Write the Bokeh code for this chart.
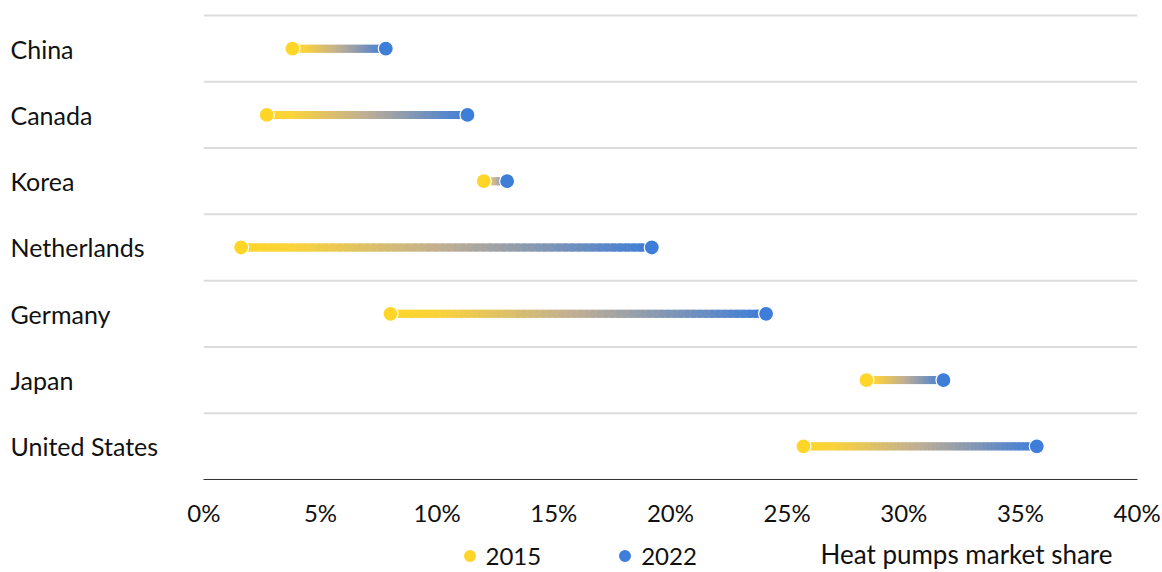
from bokeh.plotting import figure
from bokeh.models import Range1d, FixedTicker, Legend, LegendItem, Label
from bokeh.core.properties import value
from bokeh.embed import file_html
from bokeh.resources import INLINE

# ---- data ----
countries = ["China", "Canada", "Korea", "Netherlands", "Germany", "Japan", "United States"]
share_2015 = [3.8, 2.7, 12.0, 1.6, 8.0, 28.4, 25.7]
share_2022 = [7.8, 11.3, 13.0, 19.2, 24.1, 31.7, 35.7]
x_ticks = [0, 5, 10, 15, 20, 25, 30, 35, 40]
x_tick_labels = ["0%", "5%", "10%", "15%", "20%", "25%", "30%", "35%", "40%"]
series_names = ["2015", "2022"]
axis_title = "Heat pumps market share"

# ---- style ----
FONT = "Lato"
YELLOW = (255, 213, 40)
BLUE = (62, 125, 216)
STOPS = [(0.0, YELLOW), (0.12, (252, 211, 58)), (0.5, (190, 174, 150)), (1.0, BLUE)]


def hexc(c):
    return "#%02x%02x%02x" % tuple(int(round(v)) for v in c)


def grad(t):
    for (t0, c0), (t1, c1) in zip(STOPS[:-1], STOPS[1:]):
        if t <= t1:
            f = (t - t0) / (t1 - t0)
            return hexc([a + (b - a) * f for a, b in zip(c0, c1)])
    return hexc(BLUE)


n = len(countries)
ypos = [n - i - 0.5 for i in range(n)]
x_min, x_max = x_ticks[0], x_ticks[-1]

p = figure(width=1162, height=572, output_backend="svg", toolbar_location=None,
           x_range=Range1d(-8.713, 41.088), y_range=Range1d(-1.403, n + 0.03),
           min_border_left=0, min_border_right=0, min_border_top=13, min_border_bottom=0,
           y_axis_location=None)
p.outline_line_color = None
p.background_fill_color = "white"
p.border_fill_color = "white"
p.xgrid.visible = False
for g in p.ygrid:
    g.visible = False

# row separators (category band edges), spanning the value axis only
bands = [k + 1 for k in range(n)]
p.segment(x0=[x_min] * n, y0=bands, x1=[x_max] * n, y1=bands,
          line_color="#dcdcdc", line_width=2)

# gradient connectors (short overlapping pieces, yellow -> blue)
N = 60
sx0, sx1, sy, sc = [], [], [], []
for a, b, y in zip(share_2015, share_2022, ypos):
    for k in range(N):
        sx0.append(a + (b - a) * k / N)
        sx1.append(a + (b - a) * min(k + 1.8, N) / N)
        sy.append(y)
        sc.append(grad((k + 0.5) / N))
p.segment(x0=sx0, y0=sy, x1=sx1, y1=sy, line_color=sc, line_width=8, line_cap="butt")

r15 = p.scatter(share_2015, ypos, size=15, fill_color=hexc(YELLOW),
                line_color="white", line_width=1.2)
r22 = p.scatter(share_2022, ypos, size=15, fill_color=hexc(BLUE),
                line_color="white", line_width=1.2)

# country labels
p.text(x=[-8.285] * n, y=ypos, text=countries, text_font=value(FONT), text_font_size="25px",
       text_color="#111111", text_baseline="middle", text_align="left")

ax = p.xaxis[0]
ax.fixed_location = 0
ax.ticker = FixedTicker(ticks=x_ticks)
ax.major_label_overrides = {t: l for t, l in zip(x_ticks, x_tick_labels)}
ax.bounds = (x_min, x_max)
ax.axis_line_color = "#333333"
ax.axis_line_width = 1.2
ax.major_tick_line_color = None
ax.minor_tick_line_color = None
ax.major_tick_out = 0
ax.major_tick_in = 0
ax.minor_tick_out = 0
ax.major_label_standoff = 19
ax.major_label_text_font = FONT
ax.major_label_text_font_size = "24px"
ax.major_label_text_color = "#111111"

legend = Legend(items=[LegendItem(label=series_names[0], renderers=[r15]),
                       LegendItem(label=series_names[1], renderers=[r22])],
                orientation="horizontal", location=(452.5, 0),
                glyph_width=33, glyph_height=33, label_height=20, label_standoff=0,
                spacing=67, padding=0, margin=0,
                background_fill_alpha=0, border_line_alpha=0,
                label_text_font=FONT, label_text_font_size="24px", label_text_color="#111111")
p.add_layout(legend, "center")

p.add_layout(Label(x=26.43, y=19, y_units="screen", text=axis_title, text_font=FONT,
                   text_font_size="26px", text_color="#111111", text_baseline="middle",
                   text_align="left"))

open("out.html", "w").write(file_html(p, INLINE))
